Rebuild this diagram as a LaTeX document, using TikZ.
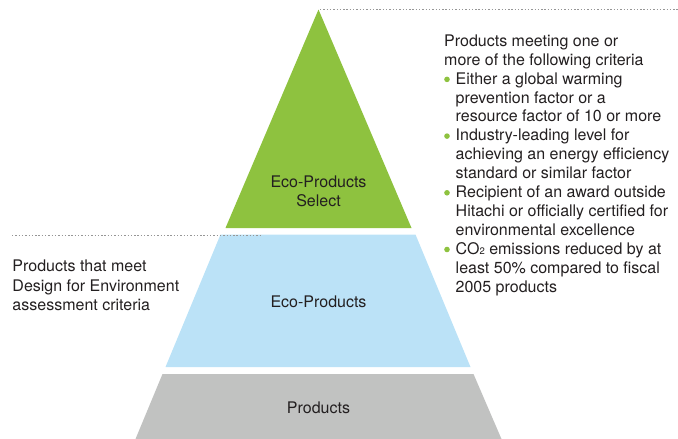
\documentclass[tikz,border=0pt]{standalone}
\usepackage{fontspec}
\setmainfont{TeX Gyre Heros}
\definecolor{ecogreen}{RGB}{142,194,63}
\definecolor{ecoblue}{RGB}{187,226,247}
\definecolor{ecogray}{RGB}{193,194,193}
\definecolor{dotgray}{RGB}{150,150,150}
\definecolor{txt}{RGB}{35,31,32}
\begin{document}
\begin{tikzpicture}[x=1pt,y=-1pt,
  lbl/.style={inner sep=0pt,text=txt,font=\fontsize{16}{19}\selectfont},
  lline/.style={lbl,anchor=base west},
  cline/.style={lbl,anchor=base},
  dotline/.style={dotgray,line width=1.5pt,dash pattern=on 1.4pt off 1.9pt},
  bullet/.style={circle,fill=ecogreen,inner sep=0pt,minimum size=5.6pt}]
\useasboundingbox (0,0) rectangle (678,439);
% layers
\fill[ecogreen] (318.5,9.5) -- (411.5,228) -- (225.5,228) -- cycle;
\fill[ecoblue] (220.5,234.5) -- (415.5,234.5) -- (470.5,367) -- (165.5,367) -- cycle;
\fill[ecogray] (162.5,374) -- (473.5,374) -- (501.5,439) -- (135.5,439) -- cycle;
% dotted lines
\coordinate (d1a) at (320,9.5); \coordinate (d1b) at (678,9.5);
\coordinate (d2a) at (12,235.5); \coordinate (d2b) at (262,235.5);
\draw[dotline] (d1a) -- (d1b);
\draw[dotline] (d2a) -- (d2b);
% pyramid labels
\node[cline] (s1) at (318.5,187.3) {Eco-Products};
\node[cline] (s2) at (318.5,206.8) {Select};
\node[cline] (e1) at (318.5,307.3) {Eco-Products};
\node[cline] (p1) at (318.5,413.3) {Products};
% left text
\node[lline] (l1) at (12.3,271.8) {Products that meet};
\node[lline] (l2) at (12.3,291.2) {Design for Environment};
\node[lline] (l3) at (12.3,310.6) {assessment criteria};
% right text
\node[lline] (h1) at (444,46.3) {Products meeting one or};
\node[lline] (h2) at (444,65.2) {more of the following criteria};
\node[lline] (r1) at (455.5,84.1) {Either a global warming};
\node[lline] (r2) at (455.5,103.0) {prevention factor or a};
\node[lline] (r3) at (455.5,121.9) {resource factor of 10 or more};
\node[lline] (r4) at (455.5,140.8) {Industry-leading level for};
\node[lline] (r5) at (455.5,159.7) {achieving an energy efficiency};
\node[lline] (r6) at (455.5,178.6) {standard or similar factor};
\node[lline] (r7) at (455.5,197.5) {Recipient of an award outside};
\node[lline] (r8) at (455.5,216.4) {Hitachi or officially certified for};
\node[lline] (r9) at (455.5,235.3) {environmental excellence};
\node[lline] (r10) at (455.5,254.2) {CO\raisebox{-0.5pt}{\fontsize{9.5}{10}\selectfont 2} emissions reduced by at};
\node[lline] (r11) at (455.5,273.1) {least 50\% compared to fiscal};
\node[lline] (r12) at (455.5,292.0) {2005 products};
\node[bullet] (b1) at (447,79.4) {};
\node[bullet] (b2) at (447,136.1) {};
\node[bullet] (b3) at (447,192.8) {};
\node[bullet] (b4) at (447,249.5) {};
\end{tikzpicture}
\end{document}
